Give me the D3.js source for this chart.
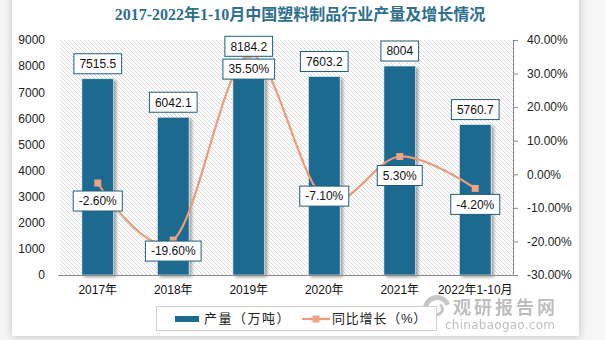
<!DOCTYPE html>
<html>
<head>
<meta charset="utf-8">
<script src="https://cdn.jsdelivr.net/npm/d3@7/dist/d3.min.js"></script>
<style>
  html, body { margin: 0; padding: 0; background: #fff; }
  svg { display: block; }
  text { font-family: "Liberation Sans", Arial, "Noto Sans CJK SC", sans-serif; }
</style>
</head>
<body>
<svg id="chart" width="605" height="340"></svg>
<script>
var title = "2017-2022年1-10月中国塑料制品行业产量及增长情况";
var years = ["2017年", "2018年", "2019年", "2020年", "2021年", "2022年1-10月"];
var output = [7515.5, 6042.1, 8184.2, 7603.2, 8004, 5760.7];
var growth = [-2.6, -19.6, 35.5, -7.1, 5.3, -4.2];
var leftTicks = [0, 1000, 2000, 3000, 4000, 5000, 6000, 7000, 8000, 9000];
var rightTicks = [-30, -20, -10, 0, 10, 20, 30, 40];
var legendNames = ["产量（万吨）", "同比增长（%）"];

var svg = d3.select("#chart");
var defs = svg.append("defs");

var cardShadow = defs.append("filter").attr("id", "cardShadow")
  .attr("x", "-10%").attr("y", "-10%").attr("width", "120%").attr("height", "120%");
cardShadow.append("feDropShadow").attr("dx", 0).attr("dy", 1)
  .attr("stdDeviation", 5).attr("flood-color", "#000").attr("flood-opacity", 0.22);

var barShadow = defs.append("filter").attr("id", "barShadow")
  .attr("x", "-20%").attr("y", "-20%").attr("width", "150%").attr("height", "150%");
barShadow.append("feDropShadow").attr("dx", 2.5).attr("dy", 2)
  .attr("stdDeviation", 1.5).attr("flood-color", "#000").attr("flood-opacity", 0.35);

var hatch = defs.append("pattern").attr("id", "hatch")
  .attr("patternUnits", "userSpaceOnUse").attr("width", 4).attr("height", 4);
hatch.append("path").attr("d", "M-1,-1 L5,5 M-1,3 L1,5 M3,-1 L5,1")
  .attr("stroke", "#d9d9d9").attr("stroke-width", 1);

// page + card
svg.append("rect").attr("width", 605).attr("height", 340).attr("fill", "#f6f6f6");
svg.append("rect").attr("x", 12).attr("y", -20).attr("width", 567).attr("height", 356)
  .attr("fill", "#fff").attr("filter", "url(#cardShadow)");

svg.append("text")
  .attr("x", 300).attr("y", 20)
  .attr("text-anchor", "middle")
  .style("font-family", "'Liberation Serif', 'Noto Sans CJK SC', serif")
  .style("font-size", "16px").style("font-weight", "bold")
  .attr("fill", "#2e6f8c")
  .text(title);

var margin = {left: 60, right: 513, top: 40, bottom: 275};

var x = d3.scaleBand().domain(years)
  .range([margin.left, margin.right])
  .paddingInner(0.58).paddingOuter(0.29);
var yL = d3.scaleLinear().domain([0, 9000]).range([margin.bottom, margin.top]);
var yR = d3.scaleLinear().domain([-30, 40]).range([margin.bottom, margin.top]);

// plot background
svg.append("rect")
  .attr("x", margin.left).attr("y", margin.top)
  .attr("width", margin.right - margin.left).attr("height", margin.bottom - margin.top)
  .attr("fill", "url(#hatch)");

// left axis (labels only)
var gl = svg.append("g").attr("transform", "translate(" + (margin.left - 15) + ",0)")
  .call(d3.axisLeft(yL).tickValues(leftTicks).tickSize(0).tickPadding(0)
    .tickFormat(d3.format("d")));
gl.select(".domain").remove();
gl.selectAll("text").style("font-size", "12px").attr("fill", "#222");

// right axis
var gr = svg.append("g").attr("transform", "translate(" + margin.right + ",0)")
  .call(d3.axisRight(yR).tickValues(rightTicks).tickSize(5).tickPadding(9)
    .tickFormat(function(d) { return d.toFixed(2) + "%"; }));
gr.select(".domain").attr("stroke", "#8a8a8a");
gr.selectAll(".tick line").attr("stroke", "#8a8a8a");
gr.selectAll("text").style("font-size", "12px").attr("fill", "#222");

// bars
svg.append("g").selectAll("rect")
  .data(output).join("rect")
  .attr("x", function(d, i) { return x(years[i]); })
  .attr("y", function(d) { return yL(d); })
  .attr("width", x.bandwidth())
  .attr("height", function(d) { return yL(0) - yL(d); })
  .attr("fill", "#1f6b8f")
  .attr("stroke", "#f4f4f4").attr("stroke-width", 0.6)
  .attr("filter", "url(#barShadow)");

// baseline
svg.append("line")
  .attr("x1", margin.left - 2).attr("x2", margin.right)
  .attr("y1", margin.bottom + 0.5).attr("y2", margin.bottom + 0.5)
  .attr("stroke", "#8a8a8a");

// watermark (under the axis labels)
var wm = svg.append("g").attr("opacity", 0.55);
wm.append("path")
  .attr("d", d3.arc().innerRadius(9).outerRadius(14).startAngle(-2.6).endAngle(1.2)())
  .attr("transform", "translate(437,309)").attr("fill", "#9a9a9a");
wm.append("path")
  .attr("d", d3.arc().innerRadius(4).outerRadius(7).startAngle(0.6).endAngle(3.9)())
  .attr("transform", "translate(437,309)").attr("fill", "#9a9a9a");
wm.append("text").attr("x", 453).attr("y", 314)
  .style("font-family", "'Noto Sans CJK SC', sans-serif")
  .style("font-size", "18px").style("font-weight", "bold").attr("fill", "#8a8a8a")
  .attr("textLength", 102)
  .text("观研报告网");
wm.append("text").attr("x", 445).attr("y", 329)
  .style("font-family", "'DejaVu Sans', sans-serif")
  .style("font-size", "12px").attr("fill", "#8a8a8a")
  .attr("textLength", 110)
  .text("chinabaogao.com");

// x labels
var gx = svg.append("g").attr("transform", "translate(0," + margin.bottom + ")")
  .call(d3.axisBottom(x).tickSize(0).tickPadding(10));
gx.select(".domain").remove();
gx.selectAll("text").style("font-size", "12px").attr("fill", "#111");

// growth line
var cx = function(i) { return x(years[i]) + x.bandwidth() / 2; };
var line = d3.line()
  .x(function(d, i) { return cx(i); })
  .y(function(d) { return yR(d); })
  .curve(d3.curveCardinal.tension(0));
svg.append("path").datum(growth)
  .attr("d", line)
  .attr("fill", "none")
  .attr("stroke", "#ec9b7b").attr("stroke-width", 2.2);
svg.append("g").selectAll("rect")
  .data(growth).join("rect")
  .attr("x", function(d, i) { return cx(i) - 3.5; })
  .attr("y", function(d) { return yR(d) - 3.5; })
  .attr("width", 7).attr("height", 7)
  .attr("fill", "#eea386");

// label boxes
function boxLabel(g, cxp, cyp, str) {
  var grp = g.append("g");
  var r = grp.append("rect");
  var t = grp.append("text")
    .attr("x", cxp).attr("y", cyp + 4.3)
    .attr("text-anchor", "middle")
    .style("font-size", "12px").attr("fill", "#111")
    .text(str);
  var w = t.node().getComputedTextLength() + 11;
  r.attr("x", cxp - w / 2).attr("y", cyp - 10).attr("width", w).attr("height", 20)
    .attr("fill", "#fff").attr("stroke", "#1f5f78").attr("stroke-width", 1);
}

var labels = svg.append("g");
output.forEach(function(d, i) {
  boxLabel(labels, cx(i), yL(d) - 15, String(d));
});
var growthLabelDy = [18, 11, 14, -2, 19, 16];
growth.forEach(function(d, i) {
  boxLabel(labels, cx(i), yR(d) + growthLabelDy[i], d.toFixed(2) + "%");
});

// legend
var lg = svg.append("g");
lg.append("rect").attr("x", 156.5).attr("y", 306.5).attr("width", 280).attr("height", 24)
  .attr("fill", "#fff").attr("stroke", "#d0d0d0");
lg.append("rect").attr("x", 175).attr("y", 316).attr("width", 24).attr("height", 6)
  .attr("fill", "#1f6b8f");
lg.append("text").attr("x", 204).attr("y", 323).style("font-size", "13px").attr("fill", "#222")
  .style("letter-spacing", "1.5px")
  .text(legendNames[0]);
lg.append("line").attr("x1", 302).attr("x2", 330).attr("y1", 319).attr("y2", 319)
  .attr("stroke", "#ec9b7b").attr("stroke-width", 2.2);
lg.append("rect").attr("x", 312.5).attr("y", 315.5).attr("width", 7).attr("height", 7)
  .attr("fill", "#eea386");
lg.append("text").attr("x", 332).attr("y", 323).style("font-size", "13px").attr("fill", "#222")
  .style("letter-spacing", "0.8px")
  .text(legendNames[1]);
</script>
</body>
</html>
